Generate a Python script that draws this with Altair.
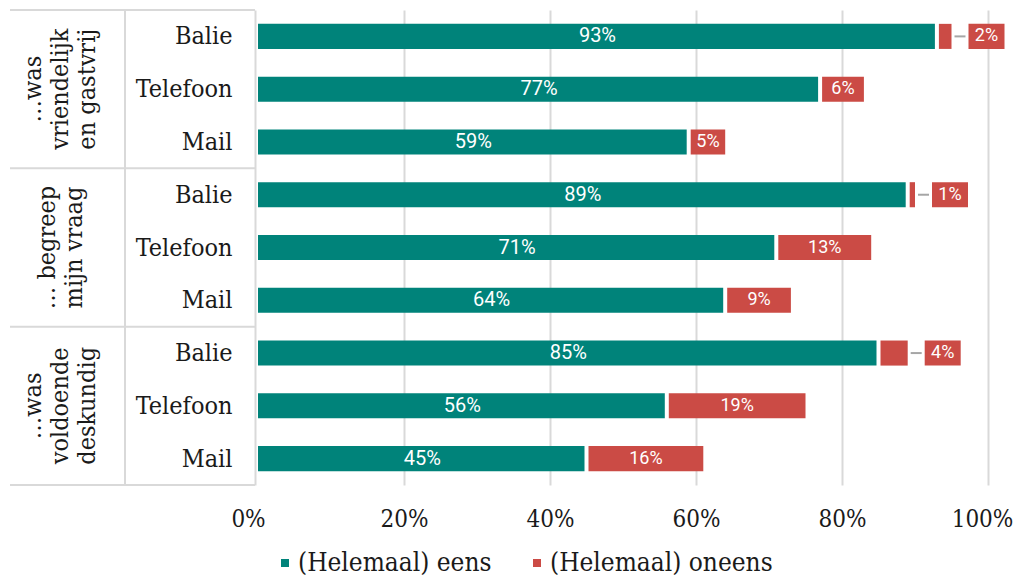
import altair as alt
import pandas as pd

# ---- data ----
group_lines = [["…was", "vriendelijk", "en gastvrij"],
               ["… begreep", "mijn vraag"],
               ["…was", "voldoende", "deskundig"]]
channels = ["Balie", "Telefoon", "Mail"]
eens = [93, 77, 59, 89, 71, 64, 85, 56, 45]
oneens = [2, 6, 5, 1, 13, 9, 4, 19, 16]
series = ["(Helemaal) eens", "(Helemaal) oneens"]
colors = ["#00837a", "#cb4b45"]
x_ticks = [0, 20, 40, 60, 80, 100]

rows = [f"{g}|{c}" for g in range(len(group_lines)) for c in channels]

df = pd.DataFrame({"row": rows, "eens": eens, "oneens": oneens})
df["total"] = df["eens"] + df["oneens"]
df["mid_e"] = df["eens"] / 2
df["mid_o"] = df["eens"] + df["oneens"] / 2
df["lab_e"] = df["eens"].astype(str) + "%"
df["lab_o"] = df["oneens"].astype(str) + "%"
df["s_e"] = series[0]
df["s_o"] = series[1]
small = df[df["oneens"] <= 4]
big = df[df["oneens"] > 4]

sep_top = pd.DataFrame({"row": [f"{g}|{channels[0]}" for g in range(len(group_lines))]})
sep_bot = pd.DataFrame({"row": [rows[-1]]})
one = pd.DataFrame({"k": [0]})

# ---- styling ----
W, H = 730, 475
SERIF = "'DejaVu Serif Condensed', 'DejaVu Serif', serif"
SANS = "Roboto"
LINE = "#d9d9d9"
TXT = "#1a1a1a"
step = H / len(rows)
P_OUT = 0.2625
gap_px = step * P_OUT
LH = 27

yscale = alt.Scale(domain=rows, paddingInner=0.525, paddingOuter=P_OUT)
yaxis = alt.Axis(title=None, labelExpr="split(datum.label, '|')[1]",
                 labelFont=SERIF, labelFontSize=25, labelColor=TXT,
                 labelPadding=23, ticks=False, domain=True,
                 domainColor=LINE, domainWidth=2, offset=3, grid=False)
xscale = alt.Scale(domain=[0, 100], nice=False)
xaxis = alt.Axis(title=None, values=x_ticks, labelExpr="datum.value + '%'",
                 labelFont=SERIF, labelFontSize=24, labelColor=TXT,
                 labelPadding=22, labelFlush=False, domain=False, ticks=False,
                 grid=True, gridColor=LINE, gridWidth=2,
                 labelOffset={"condition": [{"test": "datum.value === 0", "value": -10},
                                            {"test": "datum.value === 100", "value": -6}],
                              "value": 0},
                 gridOpacity={"condition": {"test": "datum.value === 0", "value": 0}, "value": 1})


def Y(**kw):
    return alt.Y("row:N", sort=rows, scale=yscale, axis=yaxis, title=None, **kw)


def X(f):
    return alt.X(f, scale=xscale, axis=xaxis, title=None)


cscale = alt.Scale(domain=series, range=colors)
legend = alt.Legend(title=None, orient="none", legendX=14, legendY=540,
                    direction="horizontal", symbolType="square", symbolSize=64,
                    symbolStrokeWidth=0, labelFont=SERIF, labelFontSize=26,
                    labelColor=TXT, labelOffset=0, columnPadding=32,
                    labelLimit=400)

base = alt.Chart(df)

bar_e = base.mark_bar(x2Offset=-2).encode(
    y=Y(), x=X("zero:Q"), x2="eens:Q",
    color=alt.Color("s_e:N", scale=cscale, legend=legend)
).transform_calculate(zero="0")

bar_o = base.mark_bar(xOffset=2).encode(
    y=Y(), x=X("eens:Q"), x2="total:Q",
    color=alt.Color("s_o:N", scale=cscale, legend=legend)
)

txt_e = base.mark_text(font=SANS, fontSize=20, color="white").encode(
    y=Y(), x=X("mid_e:Q"), text="lab_e:N")

txt_o = alt.Chart(big).mark_text(font=SANS, fontSize=18, color="white", dx=1).encode(
    y=Y(), x=X("mid_o:Q"), text="lab_o:N")

leader = alt.Chart(small).mark_rule(xOffset=3, x2Offset=14, color="#a6a6a6", strokeWidth=2).encode(
    y=Y(), x=X("total:Q"), x2="total:Q")

box = alt.Chart(small).mark_bar(xOffset=17, x2Offset=53, color=colors[1]).encode(
    y=Y(), x=X("total:Q"), x2="total:Q")

box_txt = alt.Chart(small).mark_text(dx=35, font=SANS, fontSize=18, color="white").encode(
    y=Y(), x=X("total:Q"), text="lab_o:N")

sep1 = alt.Chart(sep_top).mark_rule(yOffset=-gap_px, color=LINE, strokeWidth=2).encode(
    y=Y(bandPosition=0), x=alt.value(-248), x2=alt.value(-3))
sep2 = alt.Chart(sep_bot).mark_rule(yOffset=gap_px, color=LINE, strokeWidth=2).encode(
    y=Y(bandPosition=1), x=alt.value(-248), x2=alt.value(-3))
vline = alt.Chart(one).mark_rule(color=LINE, strokeWidth=2).encode(
    x=alt.value(-133), y=alt.value(0), y2=alt.value(H))

glabs = []
for g, lines in enumerate(group_lines):
    gdf = pd.DataFrame({"row": [f"{g}|{channels[1]}"], "lines": [lines]})
    glabs.append(
        alt.Chart(gdf).mark_text(angle=270, font=SERIF, fontSize=25, color=TXT,
                                 lineHeight=LH, align="center", baseline="middle",
                                 dy=-(len(lines) - 1) * LH / 2).encode(
            y=Y(), x=alt.value(-198), text="lines")
    )

chart = alt.layer(
    vline, sep1, sep2, bar_e, bar_o, txt_e, txt_o, leader, box, box_txt, *glabs
).resolve_scale(color="shared").properties(
    width=W, height=H,
    autosize=alt.AutoSizeParams(type="none"),
    padding={"left": 250, "top": 2, "right": 26, "bottom": 92},
    background="white"
).configure_view(stroke=None)

chart.save("out.html", embed_options={"renderer": "svg", "actions": False})
